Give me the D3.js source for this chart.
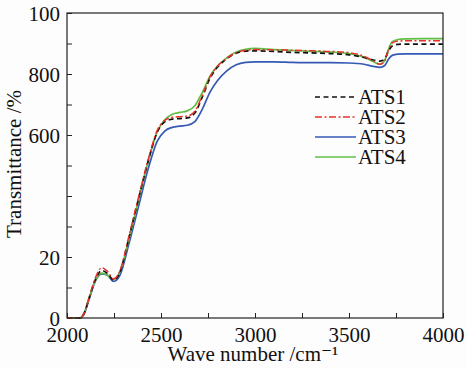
<!DOCTYPE html>
<html><head><meta charset="utf-8">
<script src="https://cdn.jsdelivr.net/npm/d3@7"></script>
<style>
body{margin:0;background:#fdfdfd;}
svg{display:block;}
text{font-family:"Liberation Serif","DejaVu Serif",serif;fill:#111;}
</style></head><body>
<svg id="c" width="467" height="369"></svg>
<script>
const wavenumbers = [2000,2070,2090,2120,2150,2185,2215,2248,2280,2330,2380,2430,2480,2520,2560,2600,2640,2680,2720,2760,2800,2850,2900,2950,3000,3100,3200,3300,3400,3500,3580,3630,3665,3690,3710,3730,3760,3800,3900,4000];
const ats1 = [0,0,1.4,7,12.4,15.6,14.6,12.4,14.8,26.5,39,51,61,64.3,65.2,65.4,65.6,67.2,72.5,78.5,82.2,85,86.8,87.5,87.6,87.4,87.1,86.9,86.7,86.3,85.4,84.6,84.2,85,87.5,89.2,89.7,89.8,89.8,89.8];
const ats2 = [0,0,1.5,7.3,13,16.5,15.3,12.8,15.2,27,39.5,51.5,61.5,64.8,65.8,66,66.2,67.8,73,79,82.5,85.2,87,87.8,88,87.9,87.8,87.6,87.4,87,85.8,84.3,83.2,84.3,88,90.2,90.8,90.9,90.9,90.9];
const ats3 = [0,0,1.2,6.6,12,14.5,14,12,13.8,24.5,36.5,48.5,58,61.3,62.5,62.9,63.2,64.4,68.5,74,77.8,81,83,83.8,84,84,83.8,83.7,83.7,83.6,83.2,82.5,82.2,82.8,84.8,86.1,86.5,86.6,86.6,86.6];
const ats4 = [0,0,1.4,7,12.2,14.7,14.1,12.6,15,26,38.5,51,61,65,66.8,67.4,67.9,69.6,74,79.2,82.6,85.3,87.2,88.1,88.4,88,87.7,87.4,87.2,86.7,85.5,84,83.2,84.5,88,90.6,91.3,91.5,91.6,91.6];
const seriesNames = ["ATS1","ATS2","ATS3","ATS4"];
const xTicks = [2000,2250,2500,2750,3000,3250,3500,3750,4000];
const xTickLabels = ["2000","","2500","","3000","","3500","","4000"];
const yTicks = [0,10,20,30,40,50,60,70,80,90,100];
const yTickLabels = ["0","","20","","","","600","","800","","100"];

const series = [
  {name:"ATS1", values:ats1, color:"#111", dash:"5,3.5", w:1.7},
  {name:"ATS2", values:ats2, color:"#e8302a", dash:"7,2.5,2,2.5", w:1.5},
  {name:"ATS3", values:ats3, color:"#3659b5", dash:null, w:1.7},
  {name:"ATS4", values:ats4, color:"#62bf45", dash:null, w:1.7}
];
const drawOrder = ["ATS3","ATS4","ATS1","ATS2"];

const svg = d3.select("#c");
const L=67, R=443, T=13, B=318;
const FS = 21;
const x = d3.scaleLinear().domain([2000,4000]).range([L,R]);
const y = d3.scaleLinear().domain([0,100]).range([B,T]);

// axes
const gx = svg.append("g").attr("transform",`translate(0,${B})`)
  .call(d3.axisBottom(x).tickValues(xTicks).tickSize(-5).tickPadding(9)
    .tickFormat((d,i)=>xTickLabels[i]));
gx.select(".domain").remove();
gx.selectAll("text").attr("font-size",FS).attr("dy","0.71em");
const gy = svg.append("g").attr("transform",`translate(${L},0)`)
  .call(d3.axisLeft(y).tickValues(yTicks).tickSize(-5).tickPadding(7)
    .tickFormat((d,i)=>yTickLabels[i]));
gy.select(".domain").remove();
gy.selectAll("text").attr("font-size",FS).attr("dy","0.34em");
svg.selectAll(".tick line").attr("stroke","#222").attr("stroke-width",1);

const line = d3.line().x((d,i)=>x(wavenumbers[i])).y(d=>y(d)).curve(d3.curveMonotoneX);
drawOrder.forEach(n=>{
  const s = series.find(q=>q.name===n);
  svg.append("path").datum(s.values).attr("d",line)
    .attr("fill","none").attr("stroke",s.color).attr("stroke-width",s.w)
    .attr("stroke-dasharray",s.dash);
});

svg.append("rect").attr("x",L).attr("y",T).attr("width",R-L).attr("height",B-T)
  .attr("fill","none").attr("stroke","#222").attr("stroke-width",1.2);

// legend
series.forEach((s,i)=>{
  const yy = 97 + i*20;
  svg.append("line").attr("x1",315).attr("x2",356).attr("y1",yy).attr("y2",yy)
    .attr("stroke",s.color).attr("stroke-width",s.w).attr("stroke-dasharray",s.dash);
  svg.append("text").attr("x",358).attr("y",yy).attr("dy","0.34em")
    .attr("font-size",FS).text(s.name);
});

// titles
svg.append("text").attr("x",253).attr("y",361).attr("text-anchor","middle")
  .attr("font-size",FS).text("Wave number /cm\u207B\u00B9");
svg.append("text").attr("transform","translate(21,164) rotate(-90)")
  .attr("text-anchor","middle").attr("font-size",FS).text("Transmittance /%");
</script></body></html>
